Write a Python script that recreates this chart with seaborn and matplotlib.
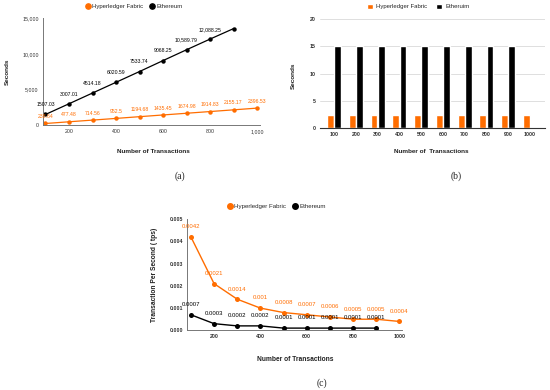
import numpy as np
import pandas as pd
import matplotlib
matplotlib.use("Agg")
import matplotlib.pyplot as plt
import seaborn as sns
from matplotlib.lines import Line2D
from matplotlib.patches import Patch
from matplotlib.ticker import FuncFormatter

sns.set_theme(style="white")
plt.rcParams['font.family'] = ['Liberation Sans', 'DejaVu Sans']

ORANGE = "#ff6d00"
BLACK = "#000000"

# ---------------- data ----------------
# (a) latency vs number of transactions
transactions_a = [100, 200, 300, 400, 500, 600, 700, 800, 900, 1000]
fabric_seconds = [238.64, 477.48, 714.56, 952.5, 1194.68, 1435.45, 1674.98, 1914.83, 2155.17, 2396.53]
fabric_labels = ["238.64", "477.48", "714.56", "952.5", "1194.68", "1435.45", "1674.98",
                 "1914.83", "2155.17", "2396.53"]
transactions_eth_a = [100, 200, 300, 400, 500, 600, 700, 800, 900]
eth_seconds = [1507.03, 3007.01, 4514.18, 6020.59, 7533.74, 9068.25, 10589.79, 12088.25, 13560.0]
eth_labels = ["1507.03", "3007.01", "4514.18", "6020.59", "7533.74", "9068.25", "10,589.79",
              "12,088.25"]

# (b) block time per batch
bar_categories = ["100", "200", "300", "400", "500", "600", "700", "800", "900", "1000"]
fabric_block = [2.4, 2.4, 2.4, 2.4, 2.4, 2.4, 2.4, 2.4, 2.4, 2.4]
eth_block = [15.0, 15.0, 15.0, 15.0, 15.0, 15.0, 15.1, 15.0, 15.0, np.nan]

# (c) transactions per second
transactions_c = [100, 200, 300, 400, 500, 600, 700, 800, 900, 1000]
fabric_tps = [0.0042, 0.0021, 0.0014, 0.001, 0.0008, 0.0007, 0.0006, 0.0005, 0.0005, 0.0004]
fabric_tps_labels = ["0.0042", "0.0021", "0.0014", "0.001", "0.0008", "0.0007", "0.0006",
                     "0.0005", "0.0005", "0.0004"]
transactions_eth_c = [100, 200, 300, 400, 500, 600, 700, 800, 900]
eth_tps = [0.0007, 0.0003, 0.0002, 0.0002, 0.0001, 0.0001, 0.0001, 0.0001, 0.0001]
eth_tps_labels = ["0.0007", "0.0003", "0.0002", "0.0002", "0.0001", "0.0001", "0.0001",
                  "0.0001", "0.0001"]

# ---------------- figure ----------------
fig = plt.figure(figsize=(5.5, 3.9), dpi=100)
fig.patch.set_facecolor("white")

TICK_C = "#333333"
SPINE_C = "#777777"


def style_line_axes(ax):
    for s in ["top", "right"]:
        ax.spines[s].set_visible(False)
    for s in ["left", "bottom"]:
        ax.spines[s].set_color(SPINE_C)
        ax.spines[s].set_linewidth(0.7)
    ax.tick_params(direction="inout", length=3, width=0.6, color=SPINE_C,
                   labelsize=3.8, labelcolor=TICK_C, pad=1.5)
    ax.grid(False)


# ---- (a) ----
ax1 = fig.add_axes([0.078, 0.679, 0.395, 0.274])
df_a = pd.concat([
    pd.DataFrame({"Transactions": transactions_a, "Seconds": fabric_seconds,
                  "Series": "Hyperledger Fabric"}),
    pd.DataFrame({"Transactions": transactions_eth_a, "Seconds": eth_seconds,
                  "Series": "Ethereum"}),
], ignore_index=True)
sns.lineplot(data=df_a, x="Transactions", y="Seconds", hue="Series",
             palette={"Hyperledger Fabric": ORANGE, "Ethereum": BLACK},
             marker="o", markersize=3.2, markeredgewidth=0, linewidth=0.9,
             ax=ax1, legend=False)
ax1.set_xlim(89, 1013)
ax1.set_ylim(0, 15000)
ax1.set_xticks([200, 400, 600, 800, 1000])
ax1.set_yticks([0, 5000, 10000, 15000])
ax1.xaxis.set_major_formatter(FuncFormatter(lambda v, p: f"{v:,.0f}"))
ax1.yaxis.set_major_formatter(FuncFormatter(lambda v, p: f"{v:,.0f}"))
style_line_axes(ax1)
for x, v, t in zip(transactions_a, fabric_seconds, fabric_labels):
    ax1.annotate(t, (x, v), xytext=(0, 5), textcoords="offset points",
                 ha="center", va="center", fontsize=3.7, color=ORANGE)
for x, v, t in zip(transactions_eth_a, eth_seconds, eth_labels):
    ax1.annotate(t, (x, v), xytext=(0, 7), textcoords="offset points",
                 ha="center", va="center", fontsize=3.7, color=BLACK)
ax1.set_xlabel("Number of Transactions", fontsize=4.6, fontweight="bold", color="#222222")
ax1.set_ylabel("Seconds", fontsize=4.6, fontweight="bold", color="#222222")
ax1.xaxis.set_label_coords(0.507, -0.22)
ax1.yaxis.set_label_coords(-0.154, 0.5)
ax1.legend(handles=[
    Line2D([], [], marker="o", color=ORANGE, linestyle="none", markersize=3.8, label="Hyperledger Fabric"),
    Line2D([], [], marker="o", color=BLACK, linestyle="none", markersize=3.8, label="Ethereum")],
    loc="center", bbox_to_anchor=(0.2436, 0.983), bbox_transform=fig.transFigure,
    ncol=2, frameon=False, fontsize=4.3, handlelength=0.8, handletextpad=0.3,
    columnspacing=1.2, borderpad=0)

# ---- (b) ----
ax2 = fig.add_axes([0.582, 0.671, 0.409, 0.280])
df_b = pd.concat([
    pd.DataFrame({"Transactions": bar_categories, "Seconds": fabric_block,
                  "Series": "Hyperledger Fabric"}),
    pd.DataFrame({"Transactions": bar_categories, "Seconds": eth_block,
                  "Series": "Etheruim"}),
], ignore_index=True)
sns.barplot(data=df_b, x="Transactions", y="Seconds", hue="Series",
            order=bar_categories, hue_order=["Hyperledger Fabric", "Etheruim"],
            palette={"Hyperledger Fabric": ORANGE, "Etheruim": BLACK},
            width=0.66, gap=0.05, errorbar=None, saturation=1,
            ax=ax2, legend=False)
ax2.set_xlim(-0.64, 9.69)
ax2.set_ylim(0, 20)
ax2.set_yticks([0, 5, 10, 15, 20])
ax2.grid(axis="y", color="#d9d9d9", linewidth=0.6)
ax2.grid(axis="x", visible=False)
ax2.set_axisbelow(True)
for s in ["top", "right", "left"]:
    ax2.spines[s].set_visible(False)
ax2.spines["bottom"].set_color("#333333")
ax2.spines["bottom"].set_linewidth(0.8)
ax2.tick_params(length=0, labelsize=3.8, labelcolor=TICK_C, pad=3)
for lab in ax2.get_xticklabels() + ax2.get_yticklabels():
    lab.set_fontweight("bold")
ax2.set_xlabel("Number of  Transactions", fontsize=4.6, fontweight="bold", color="#222222")
ax2.set_ylabel("Seconds", fontsize=4.6, fontweight="bold", color="#222222")
ax2.xaxis.set_label_coords(0.493, -0.185)
ax2.yaxis.set_label_coords(-0.107, 0.48)
ax2.legend(handles=[
    Patch(facecolor=ORANGE, label="Hyperledger Fabric"),
    Patch(facecolor=BLACK, label="Etheruim")],
    loc="center", bbox_to_anchor=(0.76, 0.983), bbox_transform=fig.transFigure,
    ncol=2, frameon=False, fontsize=4.3, handlelength=1.0, handleheight=1.0,
    handletextpad=0.5, columnspacing=1.6, borderpad=0)

# ---- (c) ----
ax3 = fig.add_axes([0.34, 0.153, 0.391, 0.285])
df_c = pd.concat([
    pd.DataFrame({"Transactions": transactions_c, "TPS": fabric_tps,
                  "Series": "Hyperledger Fabric"}),
    pd.DataFrame({"Transactions": transactions_eth_c, "TPS": eth_tps,
                  "Series": "Ethereum"}),
], ignore_index=True)
sns.lineplot(data=df_c, x="Transactions", y="TPS", hue="Series",
             palette={"Hyperledger Fabric": ORANGE, "Ethereum": BLACK},
             marker="o", markersize=3.6, markeredgewidth=0, linewidth=1.0,
             ax=ax3, legend=False)
ax3.set_xlim(83, 1012)
ax3.set_ylim(0, 0.005)
ax3.set_xticks([200, 400, 600, 800, 1000])
ax3.set_yticks([0, 0.001, 0.002, 0.003, 0.004, 0.005])
ax3.yaxis.set_major_formatter(FuncFormatter(lambda v, p: f"{v:.3f}"))
ax3.xaxis.set_major_formatter(FuncFormatter(lambda v, p: f"{v:.0f}"))
style_line_axes(ax3)
for lab in ax3.get_xticklabels() + ax3.get_yticklabels():
    lab.set_fontweight("bold")
for x, v, t in zip(transactions_c, fabric_tps, fabric_tps_labels):
    ax3.annotate(t, (x, v), xytext=(0, 7.3), textcoords="offset points",
                 ha="center", va="center", fontsize=4.3, color=ORANGE)
for x, v, t in zip(transactions_eth_c, eth_tps, eth_tps_labels):
    ax3.annotate(t, (x, v), xytext=(0, 7.3), textcoords="offset points",
                 ha="center", va="center", fontsize=4.3, color=BLACK)
ax3.set_xlabel("Number of Transactions", fontsize=4.8, fontweight="bold", color="#222222")
ax3.set_ylabel("Transaction Per Second ( tps)", fontsize=4.8, fontweight="bold", color="#222222")
ax3.xaxis.set_label_coords(0.502, -0.227)
ax3.yaxis.set_label_coords(-0.135, 0.5)
ax3.legend(handles=[
    Line2D([], [], marker="o", color=ORANGE, linestyle="none", markersize=4.0, label="Hyperledger Fabric"),
    Line2D([], [], marker="o", color=BLACK, linestyle="none", markersize=4.0, label="Ethereum")],
    loc="center", bbox_to_anchor=(0.503, 0.47), bbox_transform=fig.transFigure,
    ncol=2, frameon=False, fontsize=4.4, handlelength=0.8, handletextpad=0.3,
    columnspacing=1.2, borderpad=0)

# ---- sub-figure captions ----
serif = ["Liberation Serif", "DejaVu Serif"]
fig.text(180 / 550, 1 - 176 / 390, "(a)", family=serif, fontsize=7, ha="center", va="center")
fig.text(456 / 550, 1 - 176 / 390, "(b)", family=serif, fontsize=7, ha="center", va="center")
fig.text(322 / 550, 1 - 383 / 390, "(c)", family=serif, fontsize=7, ha="center", va="center")

fig.savefig("out.png", dpi=100, facecolor="white")
